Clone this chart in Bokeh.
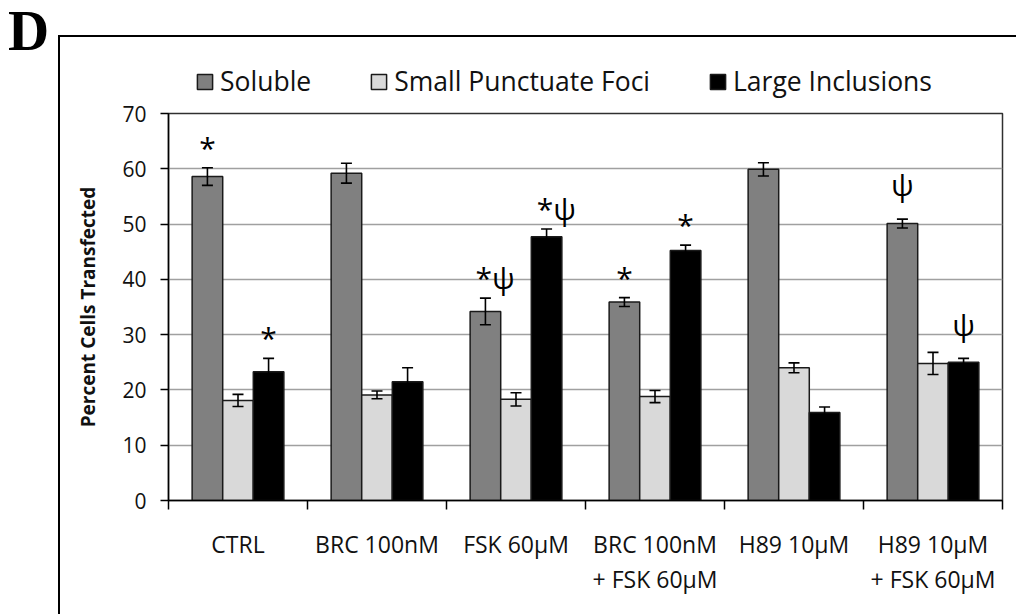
from bokeh.plotting import figure
from bokeh.models import (Range1d, FixedTicker, ColumnDataSource, Whisker, TeeHead,
                          Legend, LegendItem, Div, Spacer)
from bokeh.layouts import row, column
from bokeh.core.properties import value
from bokeh.embed import file_html
from bokeh.resources import INLINE

categories = ["CTRL", "BRC 100nM", "FSK 60μM", "BRC 100nM\n+ FSK 60μM", "H89 10μM", "H89 10μM\n+ FSK 60μM"]
series = ["Soluble", "Small Punctuate Foci", "Large Inclusions"]
soluble = [58.6, 59.2, 34.2, 35.9, 59.9, 50.1]
soluble_err = [1.6, 1.8, 2.4, 0.8, 1.2, 0.8]
small = [18.1, 19.1, 18.3, 18.8, 24.0, 24.8]
small_err = [1.1, 0.7, 1.2, 1.1, 0.9, 2.0]
large = [23.3, 21.5, 47.7, 45.2, 15.9, 25.0]
large_err = [2.4, 2.5, 1.4, 1.0, 1.0, 0.7]
colors = ["#808080", "#d9d9d9", "#000000"]
y_ticks = [0, 10, 20, 30, 40, 50, 60, 70]

# significance marks: (group index, series index, text)
ann_group = [0, 0, 2, 2, 3, 3, 5, 5]
ann_series = [0, 2, 0, 2, 0, 2, 0, 2]
ann_text = ["*", "*", "*ψ", "*ψ", "*", "*", "ψ", "ψ"]

FONT = "Open Sans"

p = figure(width=956, height=515, output_backend="svg", toolbar_location=None,
           x_range=Range1d(0, 6), y_range=Range1d(0, 70),
           min_border_left=108, min_border_right=14, min_border_top=14, min_border_bottom=114)
p.background_fill_color = "white"
p.border_fill_color = "white"
p.outline_line_color = "#303030"
p.outline_line_width = 1.5

vals = [soluble, small, large]
errs = [soluble_err, small_err, large_err]
bw = 0.22
offsets = [-bw, 0.0, bw]
for s in range(3):
    xs = [i + 0.5 + offsets[s] for i in range(len(categories))]
    src = ColumnDataSource(dict(x=xs, top=vals[s],
                                upper=[v + e for v, e in zip(vals[s], errs[s])],
                                lower=[v - e for v, e in zip(vals[s], errs[s])]))
    p.vbar(x="x", top="top", width=bw, source=src, fill_color=colors[s],
           line_color="#1a1a1a", line_width=1.5)
    w = Whisker(base="x", upper="upper", lower="lower", source=src, dimension="height",
                line_color="black", line_width=1.6, level="overlay",
                upper_head=TeeHead(size=11, line_color="black", line_width=1.6),
                lower_head=TeeHead(size=11, line_color="black", line_width=1.6))
    p.add_layout(w)

# annotations (a lone psi sits a little higher above its error bar)
ax = []
ay = []
for g, s, t in zip(ann_group, ann_series, ann_text):
    shift = 0.07 if len(t) > 1 else 0.0
    lift = 2.5 if t == "ψ" else 0.0
    ax.append(g + 0.5 + offsets[s] + shift)
    ay.append(vals[s][g] + errs[s][g] + lift)
p.text(x=ax, y=ay, text=ann_text, text_font=value(FONT), text_font_size="30px",
       text_align="center", text_baseline="bottom", text_color="black")

# axes
p.yaxis.ticker = FixedTicker(ticks=y_ticks, minor_ticks=[])
p.yaxis.major_tick_out = 8
p.yaxis.major_tick_in = 0
p.yaxis.axis_line_color = "black"
p.yaxis.axis_line_width = 1.5
p.yaxis.major_tick_line_width = 1.5
p.yaxis.major_label_text_font = FONT
p.yaxis.major_label_text_font_size = "21px"
p.yaxis.major_label_text_color = "#111111"
p.yaxis.major_label_standoff = 14
p.yaxis.axis_label = "Percent Cells Transfected"
p.yaxis.axis_label_text_font = FONT
p.yaxis.axis_label_text_font_style = "bold"
p.yaxis.axis_label_text_font_size = "19px"
p.yaxis.axis_label_text_color = "#111111"
p.yaxis.axis_label_standoff = 18

p.xaxis.ticker = FixedTicker(ticks=[i + 0.5 for i in range(len(categories))],
                             minor_ticks=[float(i) for i in range(len(categories) + 1)])
p.xaxis.major_label_overrides = {i + 0.5: c for i, c in enumerate(categories)}
p.xaxis.major_tick_line_color = None
p.xaxis.major_tick_out = 0
p.xaxis.major_tick_in = 0
p.xaxis.minor_tick_out = 9
p.xaxis.minor_tick_in = 0
p.xaxis.minor_tick_line_color = "black"
p.xaxis.minor_tick_line_width = 1.5
p.xaxis.axis_line_color = "black"
p.xaxis.axis_line_width = 1.5
p.xaxis.major_label_text_font = FONT
p.xaxis.major_label_text_font_size = "23px"
p.xaxis.major_label_text_color = "#111111"
p.xaxis.major_label_text_line_height = 1.1
p.xaxis.major_label_standoff = 18

p.xgrid.grid_line_color = None
p.ygrid.ticker = FixedTicker(ticks=y_ticks)
p.ygrid.grid_line_color = "#a0a0a0"
p.ygrid.grid_line_width = 1.5

# legend strip (its own small figure above the chart, inside the outer frame);
# the swatch renderers hold a single NaN placeholder so nothing is drawn on the strip itself
lg = figure(width=956, height=62, output_backend="svg", toolbar_location=None,
            x_range=Range1d(0, 6), y_range=Range1d(0, 70),
            x_axis_location=None, y_axis_location=None,
            min_border_left=0, min_border_right=0, min_border_top=0, min_border_bottom=0)
lg.outline_line_color = None
lg.grid.visible = False
lg.border_fill_color = "white"
lg.background_fill_color = "white"
nan = float("nan")
lg_renderers = [lg.vbar(x=[nan], top=[nan], width=bw, fill_color=colors[i],
                        line_color="#1a1a1a", line_width=1.5) for i in range(3)]
legend = Legend(items=[LegendItem(label=series[i], renderers=[lg_renderers[i]]) for i in range(3)],
                orientation="horizontal", location=(27, 0),
                label_text_font=FONT, label_text_font_size="26.5px", label_text_color="#111111",
                glyph_width=19, glyph_height=19, spacing=58, label_standoff=6,
                border_line_color=None, background_fill_alpha=0, padding=2, margin=0)
lg.add_layout(legend)

boxed = column(lg, p, spacing=0)
boxed.styles = {"border-top": "2px solid black", "border-left": "2px solid black"}

d = Div(text='<div style="font-family:\'Liberation Serif\';font-weight:bold;font-size:57px;'
             'line-height:1.1;margin:0 0 0 8px;color:black;">D</div>',
        width=58, height=72, margin=0)
layout = row(d, column(Spacer(height=35, width=958), boxed, spacing=0), spacing=0)

open("out.html", "w").write(file_html(layout, INLINE))
